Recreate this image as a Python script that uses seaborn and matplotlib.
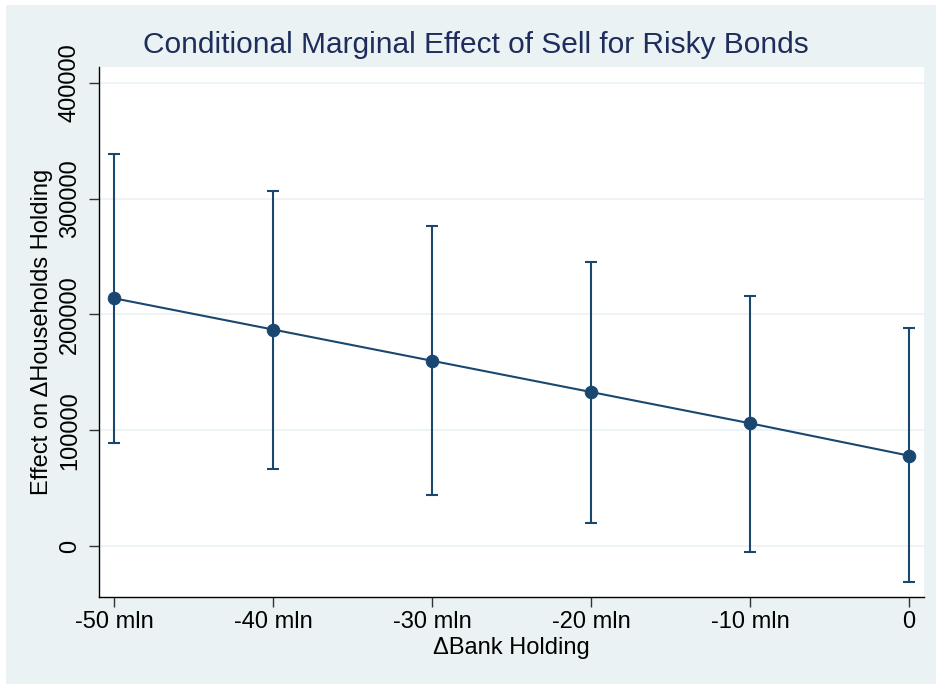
import numpy as np
import pandas as pd
import seaborn as sns
import matplotlib.pyplot as plt
from matplotlib.patches import Rectangle

# values read from the marginsplot
bank_change = [-50, -40, -30, -20, -10, 0]
effect = [214000, 187000, 160000, 133000, 106000, 78000]
ci_upper = [339000, 307000, 276000, 245500, 216000, 188000]
ci_lower = [89000, 66500, 44000, 20000, -5000, -31000]
xtick_labels = ['-50 mln', '-40 mln', '-30 mln', '-20 mln', '-10 mln', '0']
ytick_values = [0, 100000, 200000, 300000, 400000]

navy = '#1a476f'
title_navy = '#1e2d5c'
bg = '#eaf2f3'

sns.set_theme(style='white')
plt.rcParams['font.family'] = ['Liberation Sans', 'DejaVu Sans']

df = pd.DataFrame({'x': bank_change, 'y': effect, 'lo': ci_lower, 'hi': ci_upper})

fig = plt.figure(figsize=(9.37, 6.84), dpi=100, facecolor='white')
# stata graph region (light blue-grey) inset a few px from the edge
fig.patches.append(Rectangle((6 / 937, 0), 1 - 6 / 937, 1 - 5 / 684,
                             transform=fig.transFigure, facecolor=bg,
                             edgecolor='none', zorder=-10))

ax = fig.add_axes([99 / 937, 1 - 597 / 684, (924 - 99) / 937, (597 - 67) / 684])
ax.set_facecolor('white')

ax.errorbar(df['x'], df['y'], yerr=[df['y'] - df['lo'], df['hi'] - df['y']],
            fmt='none', ecolor=navy, elinewidth=1.5, capsize=4, capthick=1.5, zorder=2)
sns.lineplot(data=df, x='x', y='y', ax=ax, color=navy, linewidth=1.5,
             marker='o', markersize=9, markeredgecolor=navy, zorder=3)

ax.set_xlim(-50.94, 0.94)
ax.set_ylim(-44100, 413800)
ax.set_xticks(bank_change)
ax.set_xticklabels(xtick_labels)
ax.set_yticks(ytick_values)
ax.set_yticklabels([str(v) for v in ytick_values], rotation=90, va='center')

ax.yaxis.grid(True, color=bg, linewidth=1.2)
ax.set_axisbelow(True)
for side in ['top', 'right']:
    ax.spines[side].set_visible(False)
for side in ['left', 'bottom']:
    ax.spines[side].set_color('black')
    ax.spines[side].set_linewidth(1.0)

ax.tick_params(axis='both', which='major', length=7, width=1.0, color='#333333',
               labelsize=17, labelcolor='black', left=True, bottom=True)
ax.tick_params(axis='y', pad=6)
ax.tick_params(axis='x', pad=3)

ax.set_xlabel('\u0394Bank Holding', fontsize=17, color='black', labelpad=3)
ax.set_ylabel('Effect on \u0394Households Holding', fontsize=17, color='black', labelpad=4)
fig.text(476 / 937, 1 - 45 / 684, 'Conditional Marginal Effect of Sell for Risky Bonds',
         ha='center', va='center', fontsize=21.5, color=title_navy)

fig.savefig('out.png', dpi=100, facecolor=fig.get_facecolor())
